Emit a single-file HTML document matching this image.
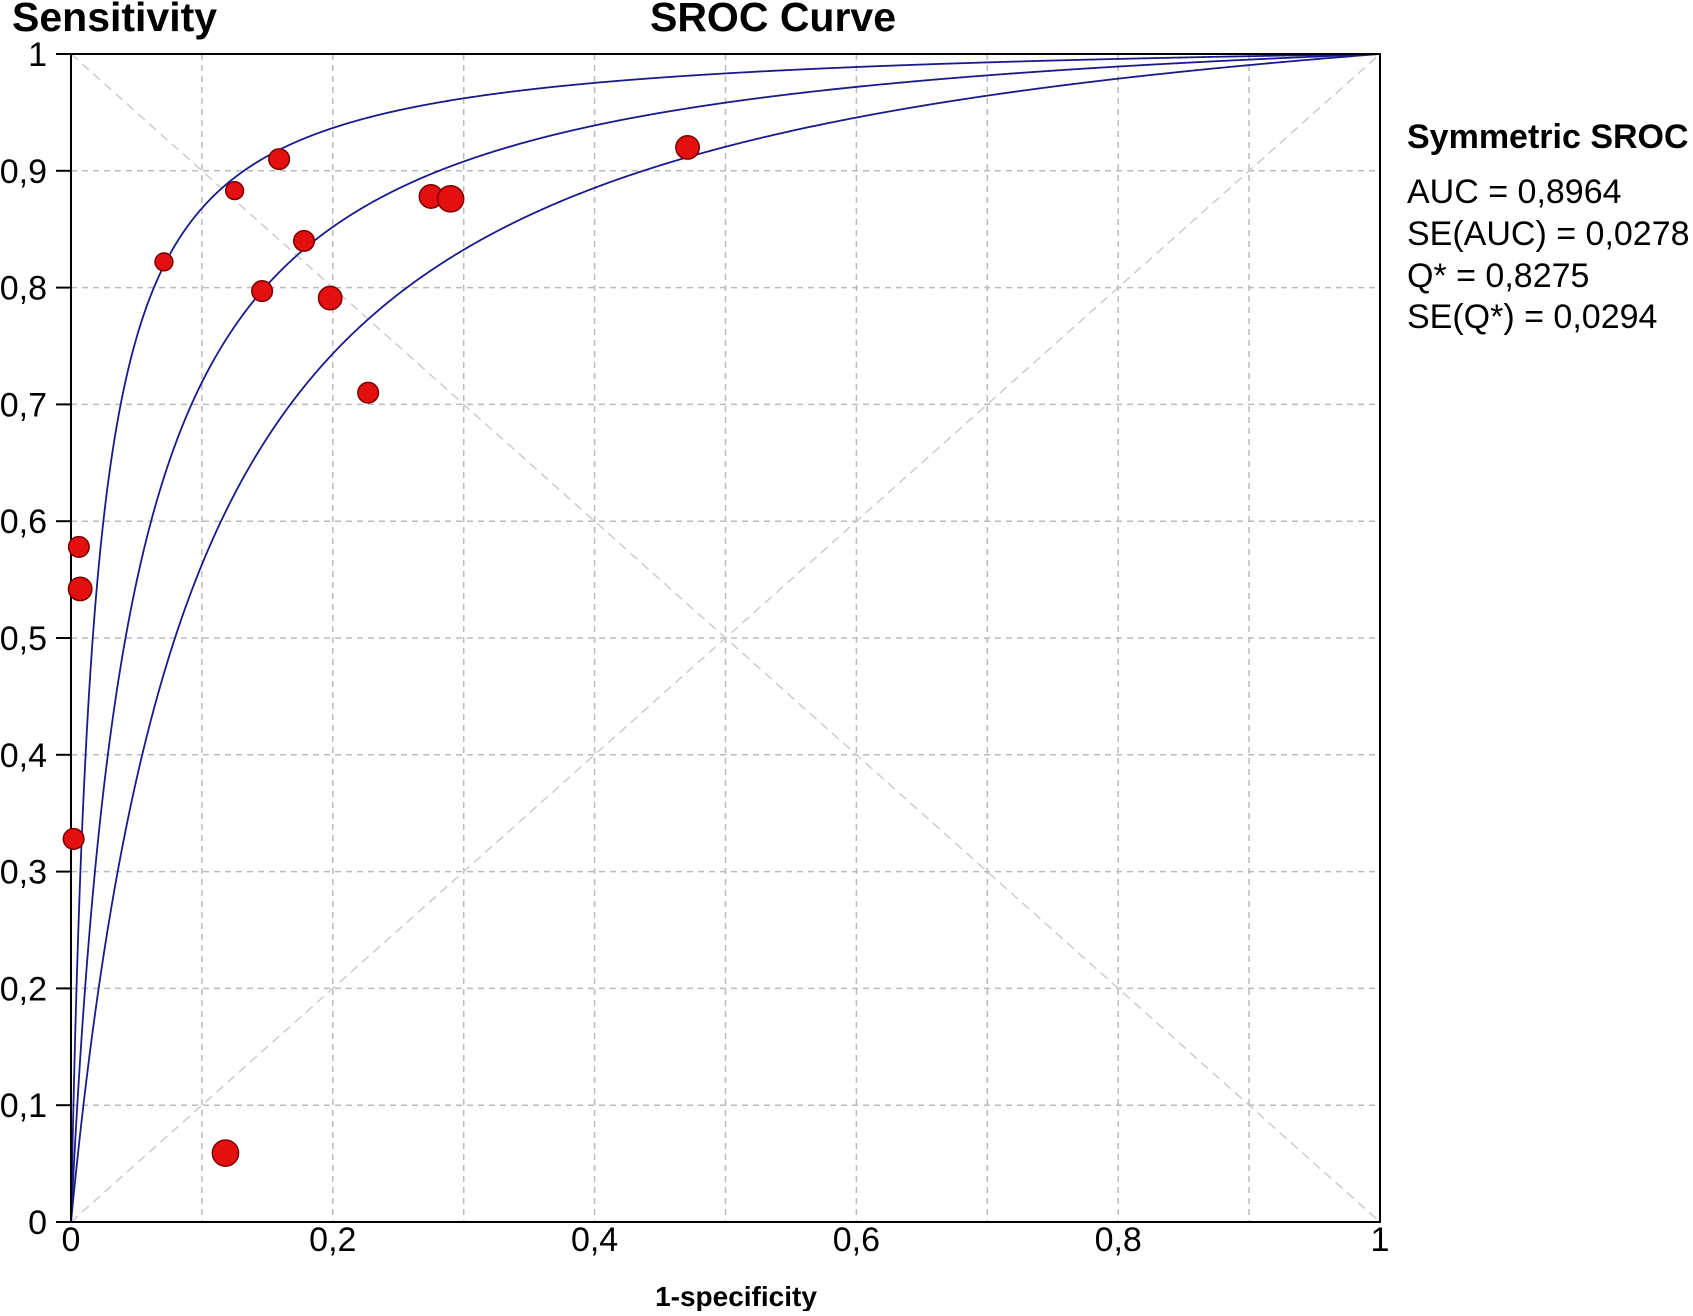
<!DOCTYPE html>
<html><head><meta charset="utf-8"><style>
html,body{margin:0;padding:0;background:#fff;}
svg text{font-family:"Liberation Sans",Arial,sans-serif;fill:#000;}
</style></head><body>
<svg id="chart" width="1693" height="1311" viewBox="0 0 1693 1311" xmlns="http://www.w3.org/2000/svg">
<g id="grid"></g>
<g id="diag"></g>
<g id="curves"></g>
<g id="axes"></g>
<g id="points"></g>
<text x="12" y="31" font-size="41" font-weight="bold">Sensitivity</text>
<text x="773" y="31" font-size="41" font-weight="bold" text-anchor="middle">SROC Curve</text>
<text x="736" y="1306" font-size="28" font-weight="bold" text-anchor="middle">1-specificity</text>
<g font-size="34">
<text x="1407" y="148" font-weight="bold" font-size="34">Symmetric SROC</text>
<text x="1407" y="203">AUC = 0,8964</text>
<text x="1407" y="245">SE(AUC) = 0,0278</text>
<text x="1407" y="287">Q* = 0,8275</text>
<text x="1407" y="328">SE(Q*) = 0,0294</text>
</g>
</svg>
<script>
const xTicks=[0,0.2,0.4,0.6,0.8,1];
const xTickLabels=["0","0,2","0,4","0,6","0,8","1"];
const yTicks=[0,0.1,0.2,0.3,0.4,0.5,0.6,0.7,0.8,0.9,1];
const yTickLabels=["0","0,1","0,2","0,3","0,4","0,5","0,6","0,7","0,8","0,9","1"];
const curveD=[4.08,3.136,2.45];
const ptFpr=[0.159,0.125,0.071,0.178,0.146,0.198,0.227,0.275,0.290,0.471,0.006,0.007,0.002,0.118];
const ptSens=[0.910,0.883,0.822,0.840,0.797,0.791,0.710,0.878,0.876,0.920,0.578,0.542,0.328,0.059];
const ptWeight=[2,1,1,2,2,3,2,3,4,3,2,3,2,4];

const L=71,R=1380,T=54,B=1222;
const sx=v=>L+v*(R-L), sy=v=>B-v*(B-T);
const NS="http://www.w3.org/2000/svg";
function mk(tag,parent,attrs){const e=document.createElementNS(NS,tag);for(const k in attrs)e.setAttribute(k,attrs[k]);document.getElementById(parent).appendChild(e);return e;}
for(let i=1;i<10;i++){
  const v=i/10;
  const gx=mk('line','grid',{x1:sx(v),x2:sx(v),y1:T,y2:B,stroke:'#bbb','stroke-width':1.5,'stroke-dasharray':'6,5'});
  
  
  const gy=mk('line','grid',{x1:L,x2:R,y1:sy(v),y2:sy(v),stroke:'#bbb','stroke-width':1.5,'stroke-dasharray':'6,5'});
  
  
}
const d1=mk('line','diag',{x1:sx(0),y1:sy(0),x2:sx(1),y2:sy(1),stroke:'#ccc','stroke-width':1.5,'stroke-dasharray':'9,6'});


const d2=mk('line','diag',{x1:sx(0),y1:sy(1),x2:sx(1),y2:sy(0),stroke:'#ccc','stroke-width':1.5,'stroke-dasharray':'9,6'});


curveD.forEach((D,ci)=>{
  let p=`M${sx(0)},${sy(0)}`;
  for(let i=1;i<=2000;i++){
    const f=Math.pow(i/2000,2.5);
    const lf=f>=1?50:Math.log(f/(1-f));
    const s=f>=1?1:1/(1+Math.exp(-(D+lf)));
    p+=` L${sx(f).toFixed(2)},${sy(s).toFixed(2)}`;
  }
  const c=mk('path','curves',{d:p,fill:'none',stroke:'#1a1a8c','stroke-width':1.8});
  
  
});
const ax=mk('path','axes',{d:`M${L},${T} H${R} V${B} H${L} Z`,fill:'none',stroke:'#000','stroke-width':2});


yTicks.forEach((v,i)=>{
  const tk=mk('line','axes',{x1:L-15,x2:L,y1:sy(v),y2:sy(v),stroke:'#000','stroke-width':2});
  
  
  const t=mk('text','axes',{x:L-24,y:sy(v)+12,'font-size':34,'text-anchor':'end'});
  t.textContent=yTickLabels[i];
  
  
});
xTicks.forEach((v,i)=>{
  const t=mk('text','axes',{x:sx(v),y:1251,'font-size':34,'text-anchor':'middle'});
  t.textContent=xTickLabels[i];
  
  
});
ptFpr.forEach((f,i)=>{
  const c=mk('circle','points',{cx:sx(f),cy:sy(ptSens[i]),r:7.5+ptWeight[i]*1.4,fill:'#e41010',stroke:'#7a0000','stroke-width':1.5});
  
  
});
</script>
</body></html>
